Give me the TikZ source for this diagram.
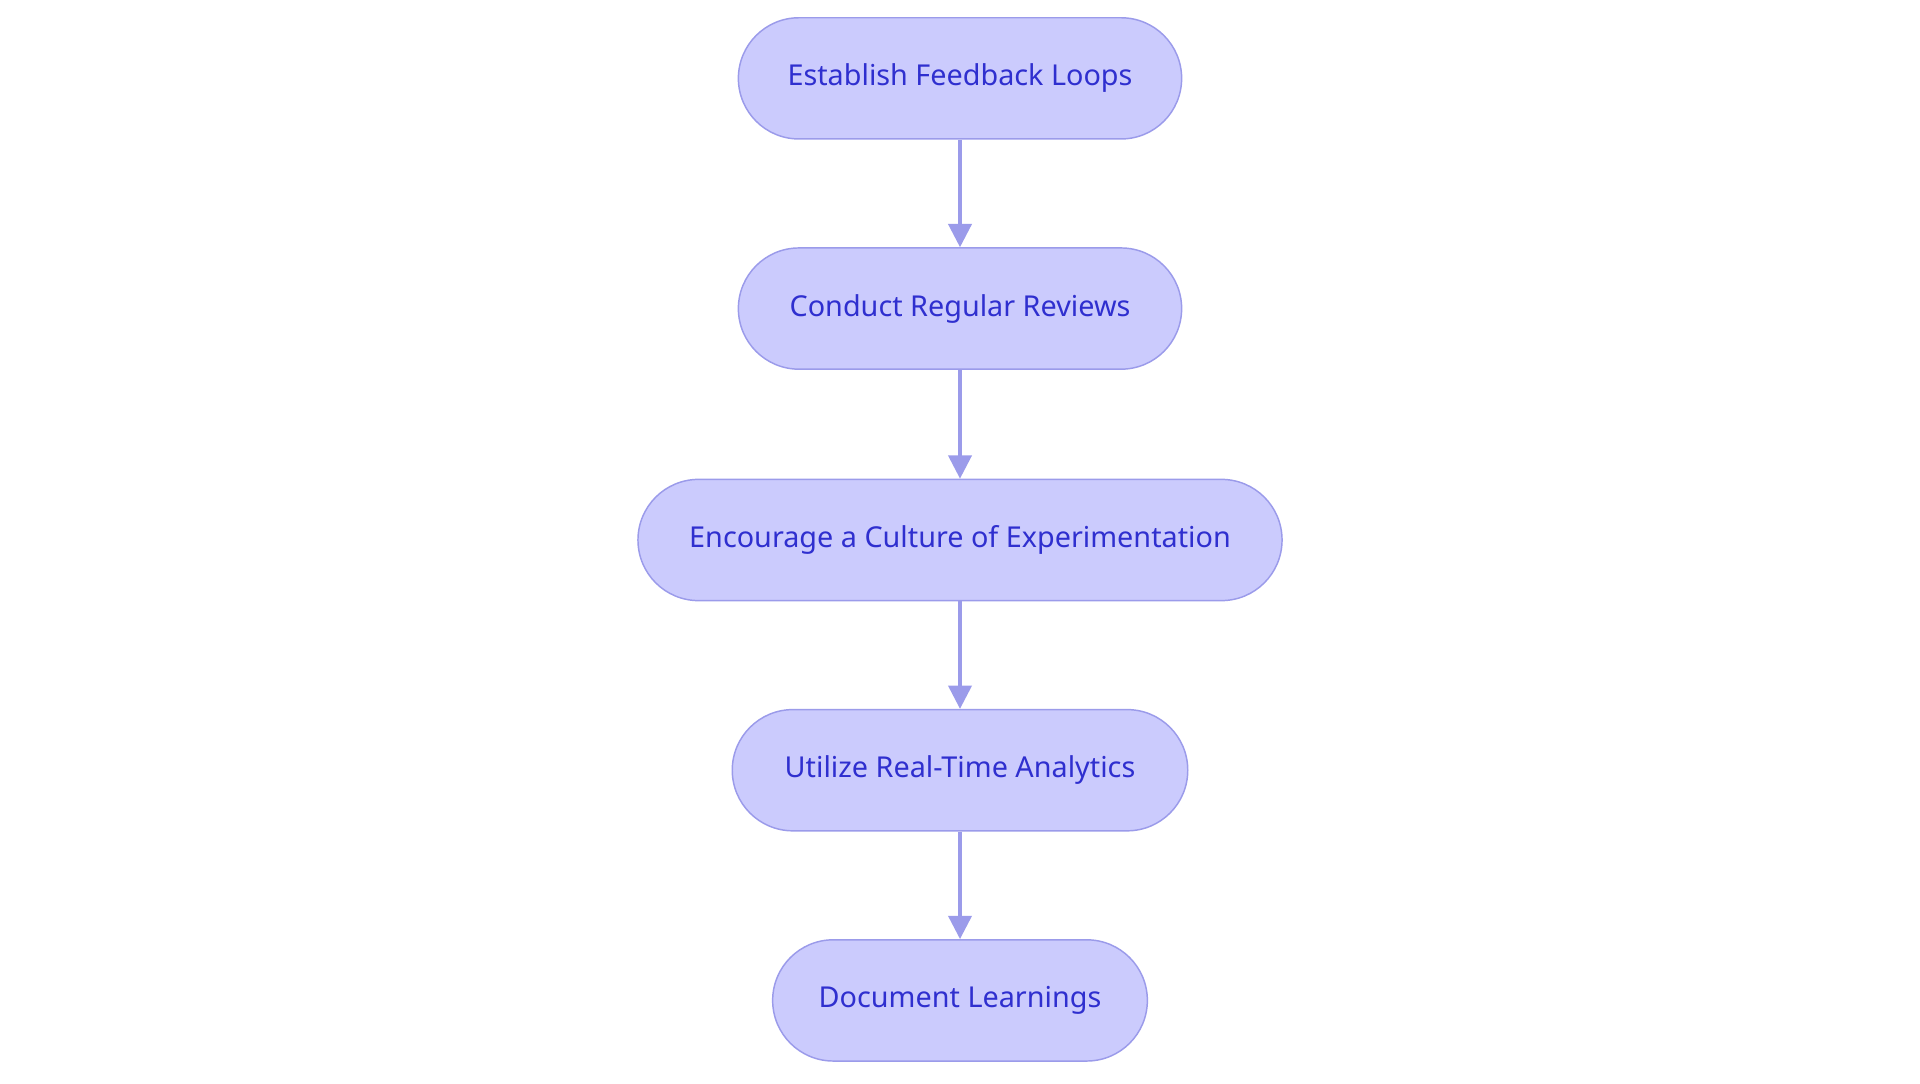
\documentclass[tikz,border=0pt]{standalone}
\usepackage{fontspec}
\setmainfont{Noto Sans}
\usetikzlibrary{arrows.meta}
\definecolor{fillc}{HTML}{CBCBFD}
\definecolor{linec}{HTML}{9B9BEA}
\definecolor{textc}{HTML}{2F2FCF}
\begin{document}
\begin{tikzpicture}[x=1pt,y=-1pt,
  box/.style={rectangle, rounded corners=49.5pt, draw=linec, line width=1.2pt, fill=fillc, text=textc,
    minimum height=99pt, font=\fontsize{23.5}{28}\selectfont, inner sep=0pt},
  arr/.style={draw=linec, line width=2.6pt, -{Triangle[length=19pt,width=19pt]}}]
\useasboundingbox (0,0) rectangle (1568,885);
\node[box, minimum width=362pt] (a) at (784,64) {Establish Feedback Loops};
\node[box, minimum width=362pt] (b) at (784,252) {Conduct Regular Reviews};
\node[box, minimum width=526pt] (c) at (784,441) {Encourage a Culture of Experimentation};
\node[box, minimum width=372pt] (d) at (784,629) {Utilize Real-Time Analytics};
\node[box, minimum width=306pt] (e) at (784,817) {Document Learnings};
\draw[arr] (a) -- (b);
\draw[arr] (b) -- (c);
\draw[arr] (c) -- (d);
\draw[arr] (d) -- (e);
\end{tikzpicture}
\end{document}
